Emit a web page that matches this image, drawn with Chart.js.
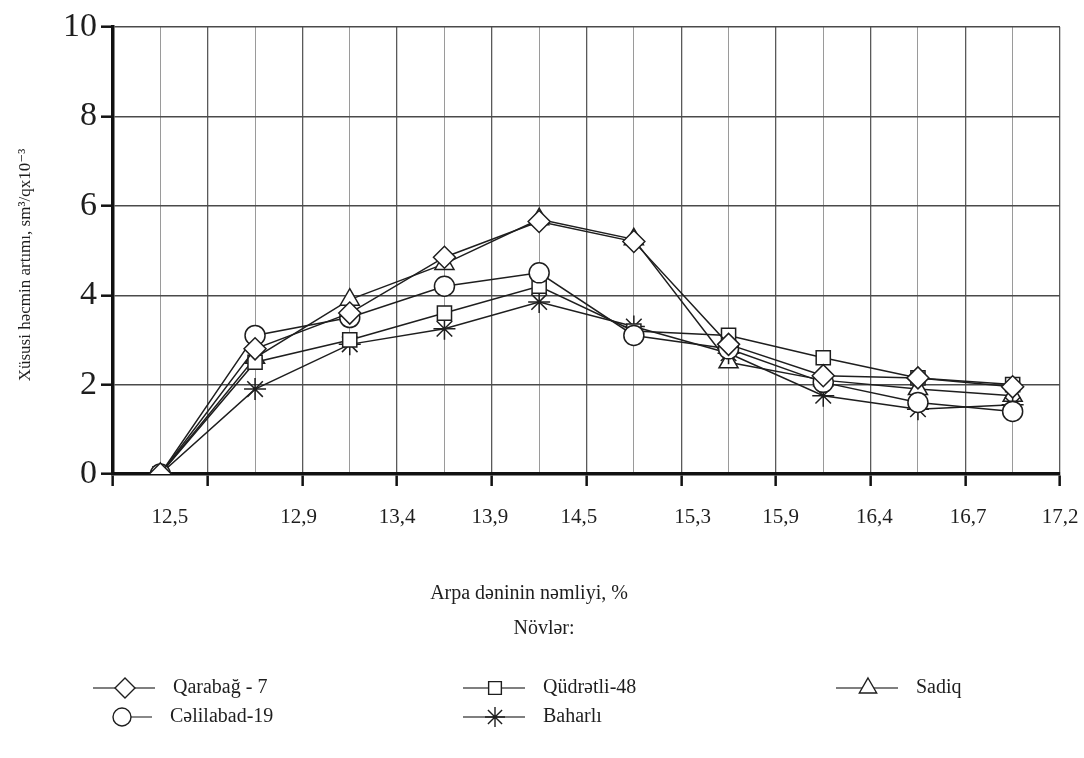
<!DOCTYPE html>
<html>
<head>
<meta charset="utf-8">
<script src="https://cdn.jsdelivr.net/npm/chart.js@4/dist/chart.umd.min.js"></script>
<style>
  html, body { margin: 0; padding: 0; background: #fff; }
  #wrap { width: 1084px; height: 758px; }
</style>
</head>
<body>
<div id="wrap"><canvas id="chart" width="1084" height="758"></canvas></div>
<script>
// moisture of barley grain, % (one label per measured point)
const categories = ["12,5", "12,9", "13,4", "13,9", "14,5", "15,3", "15,9", "16,4", "16,7", "17,2"];
// where each label sits on the x scale (axis units, as printed in the source figure)
const labelSpots = [0.6, 1.96, 3.0, 3.98, 4.92, 6.12, 7.05, 8.04, 9.03, 10];

// specific volume growth, sm3/q x10^-3
const qarabag   = [0, 2.8, 3.6, 4.85, 5.65, 5.2, 2.9, 2.2, 2.15, 1.95];
const celilabad = [0, 3.1, 3.5, 4.2, 4.5, 3.1, 2.8, 2.05, 1.6, 1.4];
const qudretli  = [0, 2.5, 3.0, 3.6, 4.2, 3.2, 3.1, 2.6, 2.15, 2.0];
const baharli   = [0, 1.9, 2.9, 3.25, 3.85, 3.3, 2.7, 1.75, 1.45, 1.55];
const sadiq     = [0, 2.6, 3.9, 4.7, 5.7, 5.25, 2.5, 2.1, 1.9, 1.75];

const yTicks = [0, 2, 4, 6, 8, 10];

const SERIF = "'Liberation Serif', 'DejaVu Serif', serif";
const INK = "#1e1e1e";

function points(arr) {
  return arr.map((v, i) => ({ x: i + 0.5, y: v }));
}

function series(label, arr, style, radius) {
  return {
    label: label,
    data: points(arr),
    borderColor: INK,
    borderWidth: 1.5,
    pointStyle: style,
    pointRadius: radius,
    pointBorderWidth: 1.5,
    pointBorderColor: INK,
    pointBackgroundColor: "#fff",
    tension: 0,
    fill: false
  };
}

const datasets = [
  series("Qarabağ - 7", qarabag, "rectRot", 11),
  series("Cəlilabad-19", celilabad, "circle", 10),
  series("Qüdrətli-48", qudretli, "rect", 10),
  series("Baharlı", baharli, "star", 11),
  series("Sadiq", sadiq, "triangle", 11)
];

// legend layout: [dataset index, marker x, row]
const legendSlots = [
  [0, 125, 0], [1, 122, 1],
  [2, 495, 0], [3, 495, 1],
  [4, 868, 0]
];

function marker(ctx, ds, x, y) {
  ctx.save();
  ctx.fillStyle = "#fff";
  ctx.strokeStyle = INK;
  ctx.lineWidth = 1.4;
  if (Chart.helpers && Chart.helpers.drawPoint) {
    Chart.helpers.drawPoint(ctx, { pointStyle: ds.pointStyle, radius: ds.pointRadius - 1, borderWidth: 1.4, rotation: 0 }, x, y);
  }
  ctx.restore();
}

const extraText = {
  id: "extraText",
  afterDraw(chart) {
    const ctx = chart.ctx;
    const xs = chart.scales.x;
    const area = chart.chartArea;

    ctx.save();
    ctx.fillStyle = INK;
    ctx.textBaseline = "middle";

    // x labels
    ctx.font = "21px " + SERIF;
    ctx.textAlign = "center";
    categories.forEach((c, i) => {
      ctx.fillText(c, xs.getPixelForValue(labelSpots[i]), area.bottom + 43);
    });

    // axis titles
    ctx.font = "20px " + SERIF;
    ctx.fillText("Arpa dəninin nəmliyi, %", 529, 594);
    ctx.fillText("Növlər:", 544, 629);

    ctx.save();
    ctx.translate(26, 265);
    ctx.rotate(-Math.PI / 2);
    ctx.font = "17px " + SERIF;
    ctx.fillText("Xüsusi həcmin artımı, sm³/qx10⁻³", 0, 0);
    ctx.restore();

    // legend
    ctx.textAlign = "left";
    ctx.font = "20px " + SERIF;
    legendSlots.forEach(([di, mx, row]) => {
      const ds = chart.data.datasets[di];
      const y = 688 + row * 29;
      ctx.strokeStyle = "#555";
      ctx.lineWidth = 1.4;
      ctx.beginPath();
      ctx.moveTo(di === 1 ? mx : mx - 32, y);
      ctx.lineTo(mx + 30, y);
      ctx.stroke();
      marker(ctx, ds, mx, y);
      ctx.fillStyle = INK;
      ctx.fillText(ds.label, mx + 48, y);
    });
    ctx.restore();
  }
};

new Chart(document.getElementById("chart"), {
  type: "line",
  data: { datasets: datasets },
  options: {
    responsive: false,
    animation: false,
    layout: { padding: { top: 27, right: 24, left: 0, bottom: 0 } },
    plugins: {
      legend: { display: false },
      tooltip: { enabled: false }
    },
    scales: {
      x: {
        type: "linear",
        min: 0,
        max: 10,
        afterFit(s) { s.height = 284; },
        ticks: { stepSize: 0.5, display: false },
        grid: {
          color: (c) => (c.tick && Number.isInteger(c.tick.value)) ? "#5a5a5a" : "#9a9a9a",
          lineWidth: (c) => (c.tick && Number.isInteger(c.tick.value)) ? 1.3 : 1,
          tickColor: (c) => (c.tick && Number.isInteger(c.tick.value)) ? "#111" : "rgba(0,0,0,0)",
          tickWidth: 2.5,
          tickLength: 12
        },
        border: { color: "#111", width: 3.5 }
      },
      y: {
        min: 0,
        max: 10,
        afterFit(s) { s.width = 113; },
        afterBuildTicks(s) { s.ticks = yTicks.map((v) => ({ value: v })); },
        ticks: {
          color: INK,
          padding: 4,
          font: { family: SERIF, size: 34 }
        },
        grid: {
          color: "#4a4a4a",
          lineWidth: 1.4,
          tickColor: "#111",
          tickWidth: 2.5,
          tickLength: 12
        },
        border: { color: "#111", width: 3.5 }
      }
    }
  },
  plugins: [extraText]
});
</script>
</body>
</html>
